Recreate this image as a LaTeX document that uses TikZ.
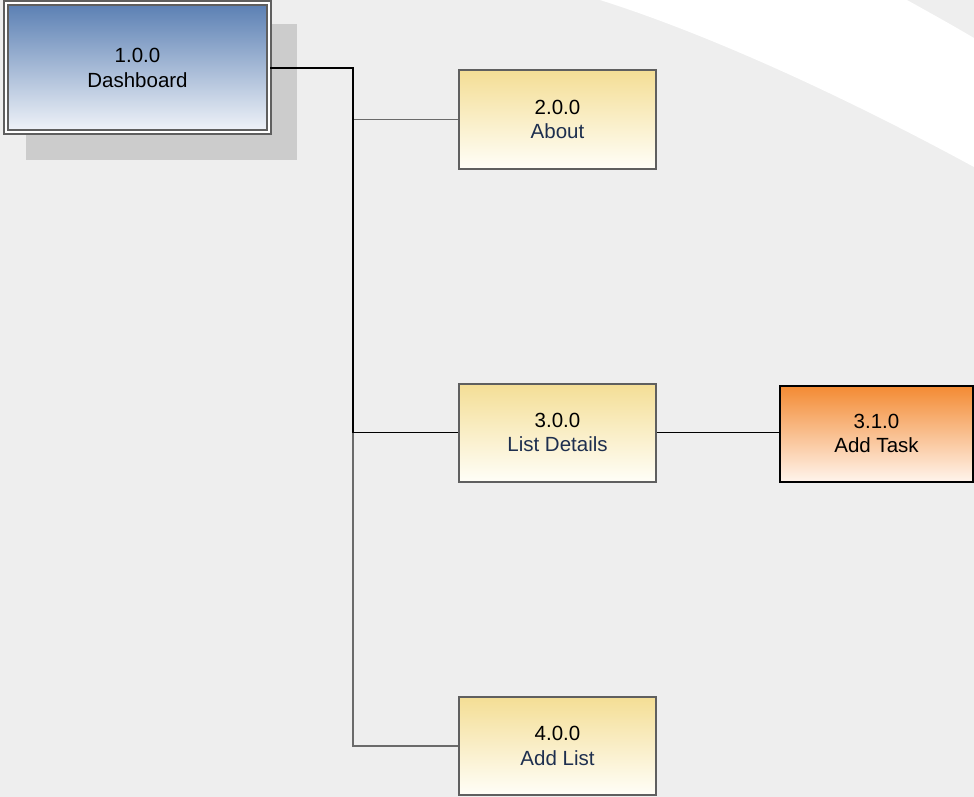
\documentclass[tikz,border=0pt]{standalone}
\usepackage{fontspec}
\setmainfont{Liberation Sans}
\usepackage{tikz}
\usetikzlibrary{positioning,calc}
\definecolor{bgcol}{HTML}{EEEEEE}
\definecolor{shadowcol}{HTML}{CCCCCC}
\definecolor{rootTop}{HTML}{5A7FB3}
\definecolor{rootBot}{HTML}{F1F4F9}
\definecolor{pageTop}{HTML}{F4DE95}
\definecolor{pageBot}{HTML}{FFFEF8}
\definecolor{subTop}{HTML}{F38A32}
\definecolor{subBot}{HTML}{FFF4EC}
\definecolor{boxline}{HTML}{5F5F5F}
\definecolor{navytxt}{HTML}{1E2F4F}
\definecolor{linkgray}{HTML}{6A6A6A}

\begin{document}
\begin{tikzpicture}[x=1pt, y=-1pt,
  box/.style={draw=boxline, line width=2pt, align=center, inner sep=0pt,
              font=\fontsize{20.5}{24.6}\selectfont},
  rootbox/.style={box, double=white, double distance=2.2pt, line width=1.8pt,
                  top color=rootTop, bottom color=rootBot,
                  minimum width=263.5pt, minimum height=128.7pt},
  pagebox/.style={box, top color=pageTop, bottom color=pageBot,
                  minimum width=197pt, minimum height=98pt},
  subbox/.style={box, draw=black, top color=subTop, bottom color=subBot,
                 minimum width=193pt, minimum height=96pt},
  blkline/.style={draw=black, line width=1.9pt},
  grayline/.style={draw=linkgray, line width=1.8pt},
]
  % Background and white band
  \fill[bgcol] (0,0) rectangle (974,797);
  \fill[white] (600,0) .. controls (720,38) and (860,105) .. (974,167)
    -- (974,38) .. controls (950,24) .. (907,0) -- cycle;
  \useasboundingbox (0,0) rectangle (974,797);

  % Root page with its shadow
  \fill[shadowcol] (26,24) rectangle (297,160);
  \node[rootbox] (dash) at (137.5,67.7) {1.0.0\\Dashboard};

  % Pages
  \node[pagebox] (about) at (557.5,119.5) {2.0.0\\\textcolor{navytxt}{About}};
  \node[pagebox] (list) at (557.5,432.5) {3.0.0\\\textcolor{navytxt}{List Details}};
  \node[pagebox] (addlist) at (557.5,745.7) {4.0.0\\\textcolor{navytxt}{Add List}};
  \node[subbox] (task) at (876.5,433.5) {3.1.0\\Add Task};

  % Links
  \coordinate (trunk) at (353,68);
  \draw[grayline] (trunk |- list.west) |- (addlist.west);
  \draw[grayline] (trunk |- about.west) -- (about.west);
  \draw[blkline] (dash.east |- trunk) -- (trunk) |- (list.west);
  \draw[blkline] (list.east) -- (list.east -| task.west);
\end{tikzpicture}
\end{document}
